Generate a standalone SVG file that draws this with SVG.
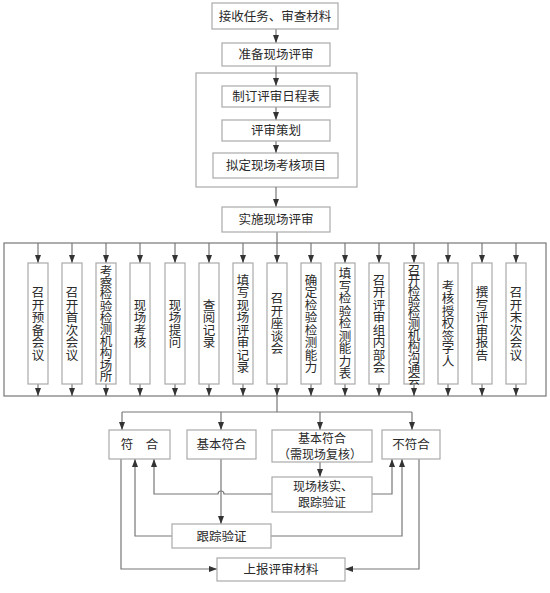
<svg xmlns="http://www.w3.org/2000/svg" width="550" height="593" viewBox="0 0 550 593">
<defs>
<marker id="ah" markerWidth="8" markerHeight="6" refX="8" refY="3" orient="auto" markerUnits="userSpaceOnUse"><path d="M0,0 L8,3 L0,6 Z" fill="#333"/></marker>
<style>
.box{fill:#fff;stroke:#aaa;stroke-width:1.2}
.ln{fill:none;stroke:#777;stroke-width:1.2}
.lt{fill:none;stroke:#aaa;stroke-width:1.2}
.ar{fill:none;stroke:#777;stroke-width:1.2;marker-end:url(#ah)}
.t{font-family:"Noto Sans CJK SC","Noto Sans",sans-serif;font-size:12.5px;fill:#2a2a2a;text-anchor:middle}
.s{font-family:"Noto Sans CJK SC","Noto Sans",sans-serif;font-size:12px;fill:#2a2a2a;text-anchor:middle}
.v{font-family:"Noto Sans CJK SC","Noto Sans",sans-serif;font-size:12.5px;fill:#2a2a2a;text-anchor:middle;writing-mode:vertical-rl}
</style>
</defs>
<rect width="550" height="593" fill="#fff"/>
<g id="connectors">
<rect class="lt" x="196" y="73" width="161" height="114"/>
<line class="ar" x1="276" y1="29" x2="276" y2="43"/>
<line class="ar" x1="276" y1="66" x2="276" y2="86"/>
<line class="ar" x1="276" y1="107" x2="276" y2="120"/>
<line class="ar" x1="276" y1="141" x2="276" y2="153"/>
<line class="ar" x1="276" y1="187" x2="276" y2="207"/>
<line class="ln" x1="277" y1="232" x2="277" y2="243"/>
<rect class="ln" x="4" y="243" width="542" height="153"/>
<path class="ar" d="M38,243V263"/><path class="ar" d="M72,243V263"/><path class="ar" d="M106,243V263"/><path class="ar" d="M140,243V263"/><path class="ar" d="M175,243V263"/><path class="ar" d="M209,243V263"/><path class="ar" d="M243,243V263"/><path class="ar" d="M277,243V263"/><path class="ar" d="M311,243V263"/><path class="ar" d="M345,243V263"/><path class="ar" d="M379,243V263"/><path class="ar" d="M414,243V263"/><path class="ar" d="M448,243V263"/><path class="ar" d="M482,243V263"/><path class="ar" d="M516,243V263"/>
<path class="ar" d="M38,384V396"/><path class="ar" d="M72,384V396"/><path class="ar" d="M106,384V396"/><path class="ar" d="M140,384V396"/><path class="ar" d="M175,384V396"/><path class="ar" d="M209,384V396"/><path class="ar" d="M243,384V396"/><path class="ar" d="M277,384V396"/><path class="ar" d="M311,384V396"/><path class="ar" d="M345,384V396"/><path class="ar" d="M379,384V396"/><path class="ar" d="M414,384V396"/><path class="ar" d="M448,384V396"/><path class="ar" d="M482,384V396"/><path class="ar" d="M516,384V396"/>
<path class="ln" d="M277,396V412M122,412H412"/>
<path class="ar" d="M122,412V430"/><path class="ar" d="M221,412V430"/><path class="ar" d="M320,412V430"/><path class="ar" d="M412,412V430"/>
<path class="ar" d="M320,462V477"/>
<path class="ar" d="M272,494H224A3,3 0 0 0 218,494H154V459"/>
<path class="ar" d="M372,494H392V459"/>
<path class="ar" d="M221,459V524"/>
<path class="ar" d="M172,536H135V459"/>
<path class="ar" d="M271,536H402V459"/>
<path class="ar" d="M121,459V569H217"/>
<path class="ar" d="M419,459V569H345"/>
</g>
<g id="n1"><rect class="box" x="212" y="3" width="126" height="26"/><text class="t" x="275" y="20.5">接收任务、审查材料</text></g>
<g id="n2"><rect class="box" x="222" y="43" width="108" height="23"/><text class="t" x="276" y="59">准备现场评审</text></g>
<g id="n3"><rect class="box" x="222" y="86" width="108" height="21"/><text class="t" x="276" y="101">制订评审日程表</text></g>
<g id="n4"><rect class="box" x="222" y="120" width="108" height="21"/><text class="t" x="276" y="135">评审策划</text></g>
<g id="n5"><rect class="box" x="213" y="153" width="125" height="25"/><text class="t" x="276" y="170">拟定现场考核项目</text></g>
<g id="n6"><rect class="box" x="222" y="207" width="108" height="25"/><text class="t" x="276" y="224">实施现场评审</text></g>
<g id="v1"><rect class="box" x="28" y="263" width="20" height="121"/><text class="v" x="38" y="323.5">召开预备会议</text></g>
<g id="v2"><rect class="box" x="62" y="263" width="20" height="121"/><text class="v" x="72" y="323.5">召开首次会议</text></g>
<g id="v3"><rect class="box" x="96" y="263" width="20" height="121"/><text class="v" x="106" y="323.5" style="letter-spacing:-0.8px">考察检验检测机构场所</text></g>
<g id="v4"><rect class="box" x="130" y="263" width="20" height="121"/><text class="v" x="140" y="323.5">现场考核</text></g>
<g id="v5"><rect class="box" x="165" y="263" width="20" height="121"/><text class="v" x="175" y="323.5">现场提问</text></g>
<g id="v6"><rect class="box" x="199" y="263" width="20" height="121"/><text class="v" x="209" y="323.5">查阅记录</text></g>
<g id="v7"><rect class="box" x="233" y="263" width="20" height="121"/><text class="v" x="243" y="323.5">填写现场评审记录</text></g>
<g id="v8"><rect class="box" x="267" y="263" width="20" height="121"/><text class="v" x="277" y="323.5">召开座谈会</text></g>
<g id="v9"><rect class="box" x="301" y="263" width="20" height="121"/><text class="v" x="311" y="323.5">确定检验检测能力</text></g>
<g id="v10"><rect class="box" x="335" y="263" width="20" height="121"/><text class="v" x="345" y="323.5">填写检验检测能力表</text></g>
<g id="v11"><rect class="box" x="369" y="263" width="20" height="121"/><text class="v" x="379" y="323.5">召开评审组内部会</text></g>
<g id="v12"><rect class="box" x="404" y="263" width="20" height="121"/><text class="v" x="414" y="323.5" style="letter-spacing:-1.6px">召开检验检测机构沟通会</text></g>
<g id="v13"><rect class="box" x="438" y="263" width="20" height="121"/><text class="v" x="448" y="323.5">考核授权签字人</text></g>
<g id="v14"><rect class="box" x="472" y="263" width="20" height="121"/><text class="v" x="482" y="323.5">撰写评审报告</text></g>
<g id="v15"><rect class="box" x="506" y="263" width="20" height="121"/><text class="v" x="516" y="323.5">召开末次会议</text></g>
<g id="r1"><rect class="box" x="109" y="430" width="61" height="29"/><text class="t" x="139.5" y="449">符　合</text></g>
<g id="r2"><rect class="box" x="187" y="430" width="69" height="29"/><text class="t" x="221.5" y="449">基本符合</text></g>
<g id="r3"><rect class="box" x="272" y="430" width="100" height="32"/><text class="s" x="322" y="443">基本符合</text><text class="s" x="320" y="458.5">（需现场复核）</text></g>
<g id="r4"><rect class="box" x="382" y="430" width="58" height="29"/><text class="t" x="411" y="449">不符合</text></g>
<g id="r5"><rect class="box" x="272" y="477" width="100" height="35"/><text class="s" x="323" y="491">现场核实、</text><text class="s" x="322" y="507">跟踪验证</text></g>
<g id="r6"><rect class="box" x="172" y="524" width="99" height="24"/><text class="t" x="221.5" y="540.5">跟踪验证</text></g>
<g id="r7"><rect class="box" x="217" y="558" width="128" height="23"/><text class="t" x="281" y="574">上报评审材料</text></g>
</svg>
